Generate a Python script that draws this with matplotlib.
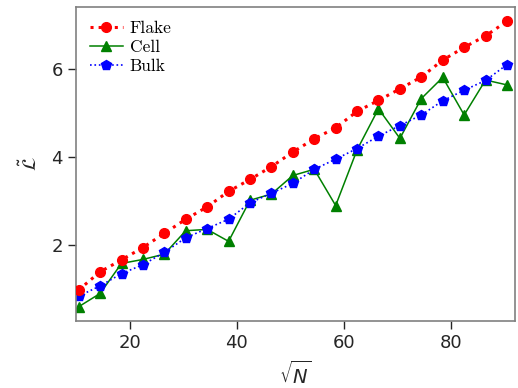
import matplotlib
matplotlib.use("Agg")
import matplotlib.pyplot as plt
import numpy as np

sqrt_n = [10.5, 14.5, 18.5, 22.5, 26.5, 30.5, 34.5, 38.5, 42.5, 46.5, 50.5,
          54.5, 58.5, 62.5, 66.5, 70.5, 74.5, 78.5, 82.5, 86.5, 90.5]
flake = [0.99, 1.40, 1.67, 1.95, 2.27, 2.59, 2.87, 3.22, 3.49, 3.78, 4.11,
         4.41, 4.66, 5.03, 5.28, 5.54, 5.81, 6.19, 6.48, 6.74, 7.07]
cell = [0.61, 0.91, 1.59, 1.68, 1.80, 2.33, 2.36, 2.09, 3.02, 3.16, 3.58,
        3.72, 2.90, 4.16, 5.09, 4.42, 5.32, 5.80, 4.95, 5.74, 5.63]
bulk = [0.85, 1.08, 1.36, 1.56, 1.84, 2.17, 2.38, 2.59, 2.96, 3.18, 3.40,
        3.72, 3.95, 4.19, 4.47, 4.71, 4.95, 5.27, 5.51, 5.73, 6.09]
x_ticks = [20, 40, 60, 80]
y_ticks = [2, 4, 6]

plt.rcParams['font.family'] = ['DejaVu Sans']
fig = plt.figure(figsize=(5.18, 3.88), dpi=100)
ax = fig.add_axes([76/518, 1-321/388, (515-76)/518, (321-7)/388])

ax.plot(sqrt_n, flake, color='red', linestyle=':', linewidth=2.2, marker='o',
        markersize=7, label='Flake', zorder=3)
ax.plot(sqrt_n, cell, color='green', linestyle='-', linewidth=1.1, marker='^',
        markersize=7.5, label='Cell', zorder=2)
ax.plot(sqrt_n, bulk, color='blue', linestyle=':', linewidth=1.2, marker='p',
        markersize=7, label='Bulk', zorder=2)

ax.set_xlim(10, 92)
ax.margins(y=0.05)
ax.set_xticks(x_ticks)
ax.set_yticks(y_ticks)
ax.tick_params(direction='out', length=6, width=1, colors='#262626',
               labelsize=13)
for s in ax.spines.values():
    s.set_color('#808080')
    s.set_linewidth(1.2)
ax.set_xlabel(r'$\sqrt{N}$', fontsize=14, color='#262626', labelpad=6)
ax.set_ylabel(r'$\tilde{\mathcal{L}}$', fontsize=14, color='#262626', labelpad=8)

leg = ax.legend(loc='upper left', frameon=False, prop={'family': 'cmr10', 'size': 12.5},
                handlelength=1.9, handletextpad=0.4, borderaxespad=0.4,
                labelspacing=0.2)

fig.savefig('out.png', dpi=100)
